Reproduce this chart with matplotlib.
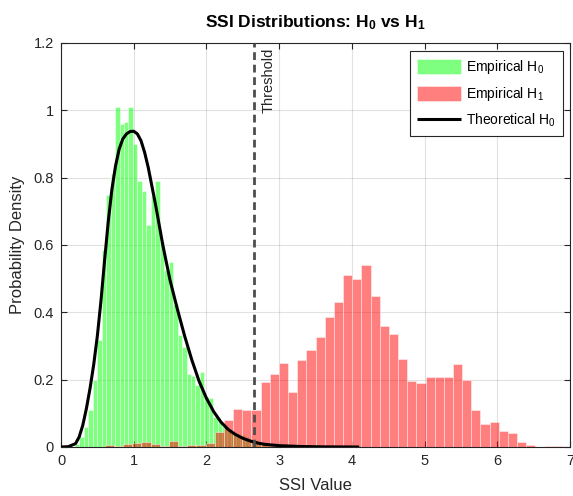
import numpy as np
import matplotlib
matplotlib.use("Agg")
import matplotlib.pyplot as plt

plt.rcParams['font.family'] = ['Liberation Sans', 'DejaVu Sans']
plt.rcParams['mathtext.fontset'] = 'custom'
plt.rcParams['mathtext.rm'] = 'Liberation Sans'
plt.rcParams['mathtext.it'] = 'Liberation Sans:italic'
plt.rcParams['mathtext.bf'] = 'Liberation Sans:bold'

# ---------------- data ----------------
# Empirical H0 histogram (pdf-normalised)
h0_first_center = 0.222
h0_bin_width = 0.0614
h0_density = [0.01, 0.03, 0.06, 0.11, 0.20, 0.318, 0.585, 0.749, 0.812, 1.01,
              0.96, 0.966, 1.01, 0.90, 0.79, 0.76, 0.66, 0.746, 0.79, 0.61,
              0.527, 0.55, 0.425, 0.332, 0.297, 0.216, 0.21, 0.183, 0.223, 0.149,
              0.147, 0.089, 0.074, 0.062, 0.05, 0.045, 0.04, 0.035, 0.03, 0.025,
              0.02, 0.012, 0.008, 0.005]

# Empirical H1 histogram (pdf-normalised)
h1_first_center = 0.666
h1_bin_width = 0.126
h1_density = [0.005, 0.004, 0.008, 0.012, 0.015, 0.008, 0.003, 0.018, 0.004, 0.005,
              0.005, 0.012, 0.044, 0.08,
              0.114, 0.111, 0.109, 0.193, 0.217, 0.25, 0.164, 0.257, 0.288, 0.326,
              0.385, 0.43, 0.51, 0.50, 0.542, 0.449, 0.358, 0.337, 0.26, 0.196,
              0.19, 0.207, 0.209, 0.209, 0.248, 0.199, 0.109, 0.069, 0.074, 0.047,
              0.041, 0.016, 0.007, 0.0, 0.002, 0.002]

# Theoretical H0 pdf
theo_x = [0.0, 0.1, 0.2, 0.25, 0.3, 0.35, 0.4, 0.45, 0.5, 0.55, 0.6, 0.65, 0.7,
          0.75, 0.8, 0.85, 0.9, 0.95, 1.0, 1.05, 1.1, 1.15, 1.2, 1.3, 1.4, 1.5,
          1.6, 1.7, 1.8, 1.9, 2.0, 2.1, 2.2, 2.3, 2.4, 2.5, 2.6, 2.7, 2.8, 3.0,
          3.3, 3.6, 4.1]
theo_y = [0.0, 0.001, 0.01, 0.03, 0.065, 0.115, 0.175, 0.245, 0.33, 0.435, 0.555,
          0.67, 0.765, 0.835, 0.885, 0.915, 0.93, 0.937, 0.938, 0.93, 0.91, 0.875,
          0.83, 0.72, 0.6, 0.495, 0.41, 0.33, 0.258, 0.195, 0.145, 0.105, 0.074,
          0.052, 0.037, 0.026, 0.018, 0.012, 0.008, 0.004, 0.0015, 0.0005, 0.0]

threshold = 2.65

x_ticks = [0, 1, 2, 3, 4, 5, 6, 7]
y_ticks = [0, 0.2, 0.4, 0.6, 0.8, 1.0, 1.2]
y_tick_labels = ['0', '0.2', '0.4', '0.6', '0.8', '1', '1.2']

# ---------------- figure ----------------
fig = plt.figure(figsize=(5.73, 4.96), dpi=100)
ax = fig.add_axes([61/573, 1 - 447/496, (570-61)/573, (447-43)/496])

axcol = (0.15, 0.15, 0.15)

h0_edges = h0_first_center - h0_bin_width/2 + h0_bin_width*np.arange(len(h0_density))
h1_edges = h1_first_center - h1_bin_width/2 + h1_bin_width*np.arange(len(h1_density))

b0 = ax.bar(h0_edges, h0_density, width=h0_bin_width, align='edge',
            color=(0, 1, 0), alpha=0.5, edgecolor='white', linewidth=0.6,
            label=r'Empirical H$_0$', zorder=2)
b1 = ax.bar(h1_edges, h1_density, width=h1_bin_width, align='edge',
            color=(1, 0, 0), alpha=0.5, edgecolor='white', linewidth=0.6,
            label=r'Empirical H$_1$', zorder=3)
ln, = ax.plot(theo_x, theo_y, color='black', lw=2.2, label=r'Theoretical H$_0$',
              zorder=4, solid_capstyle='butt')

ax.axvline(threshold, color=(0.3, 0.3, 0.3), lw=2, linestyle=(0, (2.8, 1.7)), zorder=5)
ax.annotate('Threshold', xy=(threshold, 1.0), xycoords=('data', 'axes fraction'),
            xytext=(5.5, -3), textcoords='offset points', rotation=90,
            ha='left', va='top', fontsize=10.5, color=axcol)

ax.set_xlim(0, 7)
ax.set_ylim(0, 1.2)
ax.set_xticks(x_ticks)
ax.set_yticks(y_ticks)
ax.set_yticklabels(y_tick_labels)
ax.grid(True, color=(0.15, 0.15, 0.15), alpha=0.13, lw=0.8)
ax.set_axisbelow(True)
ax.tick_params(direction='in', length=4, width=0.8, colors=axcol, labelsize=10.5,
               top=True, right=True, labelcolor=axcol, pad=5)
for s in ax.spines.values():
    s.set_color(axcol)
    s.set_linewidth(0.8)

ax.set_xlabel('SSI Value', fontsize=12, color=axcol, labelpad=7)
ax.set_ylabel('Probability Density', fontsize=12, color=axcol, labelpad=6)
ax.set_title(r'SSI Distributions: H$_\mathbf{0}$ vs H$_\mathbf{1}$',
             fontsize=12.5, fontweight='bold', pad=11)

leg = ax.legend([b0, b1, ln],
                [r'Empirical H$_0$', r'Empirical H$_1$', r'Theoretical H$_0$'],
                loc='upper right', bbox_to_anchor=(0.986, 0.98), borderaxespad=0,
                fontsize=10, handlelength=3.2, handleheight=1.3, fancybox=False,
                framealpha=1, edgecolor=axcol, labelspacing=0.65, handletextpad=0.35,
                borderpad=0.5)
leg.get_frame().set_linewidth(0.8)

fig.savefig('out.png', dpi=100)
